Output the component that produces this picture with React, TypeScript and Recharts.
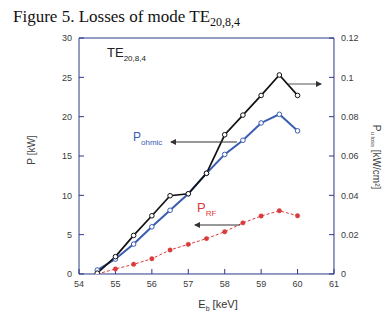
import React from 'react';
import { ComposedChart, Line, XAxis, YAxis } from 'recharts';

// Beam energy [keV]
const energies = [54.5, 55, 55.5, 56, 56.5, 57, 57.5, 58, 58.5, 59, 59.5, 60];
// Peak loss density (black, right axis) [kW/cm^2]
const pLossDensity = [0.0004, 0.0088, 0.0196, 0.0296, 0.0398, 0.0408, 0.0512, 0.0708, 0.0808, 0.0908, 0.1012, 0.0908];
// Ohmic losses (blue, left axis) [kW]
const pOhmic = [0.5, 1.9, 3.8, 6.0, 8.1, 10.2, 12.8, 15.2, 17.0, 19.2, 20.3, 18.2];
// RF losses (red, left axis) [kW]
const pRF = [0, 0.64, 1.23, 1.94, 3.05, 3.77, 4.5, 5.37, 6.5, 7.37, 8.04, 7.4];

const xTicks = [54, 55, 56, 57, 58, 59, 60, 61];
const leftTicks = [0, 5, 10, 15, 20, 25, 30];
const rightTicks = [0, 0.02, 0.04, 0.06, 0.08, 0.1, 0.12];

const minorTicks = (lo: number, hi: number, step: number) => {
  const out: number[] = [];
  const n = Math.round((hi - lo) / step);
  for (let i = 0; i <= n; i++) out.push(+(lo + i * step).toFixed(4));
  return out;
};
const xMinor = minorTicks(54, 61, 0.2);
const leftMinor = minorTicks(0, 30, 1);
const rightMinor = minorTicks(0, 0.12, 0.005);

const data = energies.map((e, i) => ({
  e,
  density: pLossDensity[i],
  ohmic: pOhmic[i],
  rf: pRF[i],
}));

const NAVY = '#2b3a86';
const BLUE = '#3a5db0';
const RED = '#d93a3a';
const tickStyle = { fill: '#3a3a3a', fontSize: 9, fontFamily: 'Arial, Liberation Sans, sans-serif' };
const T = 0.01;

const WhiteDot = (color: string, r: number) => (props: any) => {
  const { cx, cy } = props;
  if (cx == null || cy == null) return null;
  return <circle key={`${cx}-${cy}`} cx={cx} cy={cy} r={r} fill="#fff" stroke={color} strokeWidth={1} />;
};
const FilledDot = (color: string, r: number) => (props: any) => {
  const { cx, cy } = props;
  if (cx == null || cy == null) return null;
  return <circle key={`${cx}-${cy}`} cx={cx} cy={cy} r={r} fill={color} stroke={color} strokeWidth={0.5} />;
};

export default function App() {
  return (
    <div style={{ position: 'absolute', left: 0, top: 0, width: 383, height: 315, background: '#fff' }}>
      <ComposedChart width={383} height={315} data={data} margin={{ top: 38, right: 49, bottom: 41, left: 79 }}>
        <XAxis xAxisId="x" type="number" dataKey="e" domain={[54, 61]} ticks={xTicks} interval={0} height={T}
          stroke={NAVY} tickSize={-5} tickMargin={12} tick={tickStyle} allowDataOverflow />
        <XAxis xAxisId="xm" type="number" domain={[54, 61]} ticks={xMinor} interval={0} height={T}
          stroke={NAVY} axisLine={false} tickSize={-2.5} tick={false} allowDataOverflow />
        <XAxis xAxisId="xt" orientation="top" type="number" domain={[54, 61]} ticks={xTicks} interval={0} height={T}
          stroke={NAVY} tickSize={-5} tick={false} allowDataOverflow />
        <XAxis xAxisId="xtm" orientation="top" type="number" domain={[54, 61]} ticks={xMinor} interval={0} height={T}
          stroke={NAVY} axisLine={false} tickSize={-2.5} tick={false} allowDataOverflow />

        <YAxis yAxisId="left" type="number" domain={[0, 30]} ticks={leftTicks} interval={0} width={T}
          stroke={NAVY} tickSize={-5} tickMargin={12} tick={tickStyle} allowDataOverflow />
        <YAxis yAxisId="leftm" type="number" domain={[0, 30]} ticks={leftMinor} interval={0} width={T}
          stroke={NAVY} axisLine={false} tickSize={-2.5} tick={false} allowDataOverflow />
        <YAxis yAxisId="right" orientation="right" type="number" domain={[0, 0.12]} ticks={rightTicks} interval={0} width={T}
          stroke={NAVY} tickSize={-5} tickMargin={12} tick={{ ...tickStyle, textAnchor: 'start' }} allowDataOverflow />
        <YAxis yAxisId="rightm" orientation="right" type="number" domain={[0, 0.12]} ticks={rightMinor} interval={0} width={T}
          stroke={NAVY} axisLine={false} tickSize={-2.5} tick={false} allowDataOverflow />

        <Line xAxisId="x" yAxisId="left" dataKey="rf" stroke={RED} strokeWidth={1} strokeDasharray="3 2"
          dot={FilledDot(RED, 2.2)} isAnimationActive={false} />
        <Line xAxisId="x" yAxisId="left" dataKey="ohmic" stroke={BLUE} strokeWidth={2}
          dot={WhiteDot(BLUE, 2.3)} isAnimationActive={false} />
        <Line xAxisId="x" yAxisId="right" dataKey="density" stroke="#111" strokeWidth={1.7}
          dot={WhiteDot('#111', 2.3)} isAnimationActive={false} />
      </ComposedChart>

      <svg width={383} height={315} style={{ position: 'absolute', left: 0, top: 0, pointerEvents: 'none' }}>
        <defs>
          <marker id="ah" markerWidth="6" markerHeight="6" refX="5" refY="3" orient="auto" markerUnits="userSpaceOnUse">
            <path d="M0,0 L6,3 L0,6 z" fill="#333" />
          </marker>
        </defs>
        <text x={13} y={22} fontFamily="Liberation Serif, Times New Roman, serif" fontSize={17} fill="#111">
          Figure 5. Losses of mode TE<tspan fontSize={12} dy={4}>20,8,4</tspan>
        </text>

        <text x={107} y={57} fontFamily="Arial, Liberation Sans, sans-serif" fontSize={13} fill="#222">
          TE<tspan fontSize={8} dy={4}>20,8,4</tspan>
        </text>

        <text x={133} y={141} fontFamily="Arial, Liberation Sans, sans-serif" fontSize={12} fill={BLUE}>
          P<tspan fontSize={8} dy={4}>ohmic</tspan>
        </text>
        <line x1={237} y1={142} x2={171} y2={142} stroke="#333" strokeWidth={1.2} markerEnd="url(#ah)" />

        <text x={197} y={212} fontFamily="Arial, Liberation Sans, sans-serif" fontSize={13} fill={RED}>
          P<tspan fontSize={8} dy={4}>RF</tspan>
        </text>
        <line x1={240} y1={225} x2={195} y2={225} stroke="#333" strokeWidth={1} markerEnd="url(#ah)" />

        <line x1={288} y1={84} x2={321} y2={84} stroke="#555" strokeWidth={1} markerEnd="url(#ah)" />

        <text x={32} y={150} transform="rotate(-90 32 150)" textAnchor="middle" dominantBaseline="middle"
          fontFamily="Arial, Liberation Sans, sans-serif" fontSize={10} fill="#444">P [kW]</text>

        <text x={376} y={157} transform="rotate(90 376 157)" textAnchor="middle" dominantBaseline="middle"
          fontFamily="Arial, Liberation Sans, sans-serif" fontSize={10} fill="#444">
          P<tspan fontSize={6} dy={3}>u loss</tspan><tspan dy={-3}> [kW/cm²]</tspan>
        </text>

        <text x={218} y={308} textAnchor="middle"
          fontFamily="Arial, Liberation Sans, sans-serif" fontSize={11} fill="#333">
          E<tspan fontSize={7} dy={3}>b</tspan><tspan dy={-3}> [keV]</tspan>
        </text>
      </svg>
    </div>
  );
}
